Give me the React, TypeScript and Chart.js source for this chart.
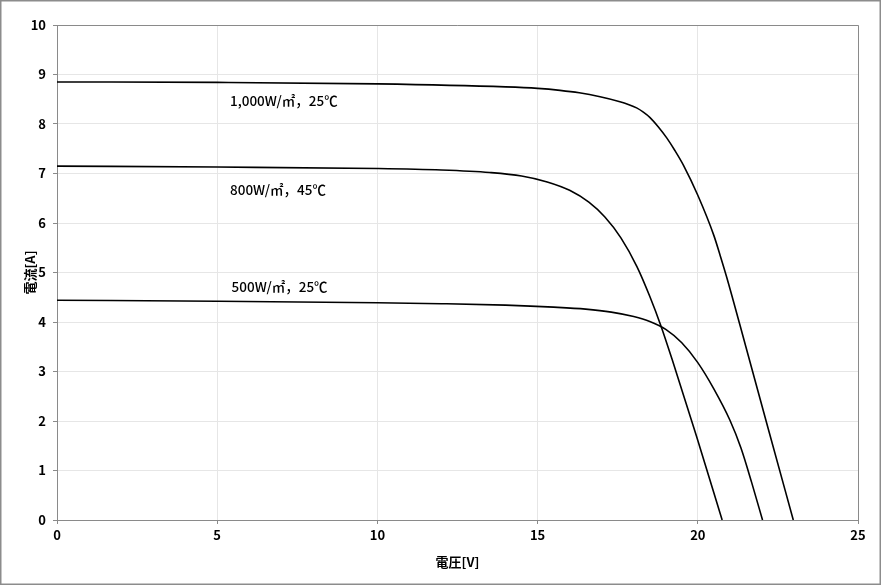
import React, { useEffect, useRef } from "react";
import { Chart, registerables } from "chart.js";

Chart.register(...registerables);

const v1000 = [0, 5, 10, 14, 15, 15.7, 16.3, 16.95, 17.57, 17.83, 18.09, 18.3, 18.51, 18.77, 19.03, 19.29, 19.55, 20.0, 20.5, 20.7, 20.9, 21.5, 22.2, 22.98];
const i1000 = [8.85, 8.84, 8.81, 8.75, 8.72, 8.68, 8.63, 8.55, 8.45, 8.395, 8.325, 8.24, 8.13, 7.94, 7.72, 7.46, 7.17, 6.56, 5.75, 5.34, 4.91, 3.5, 1.84, 0];

const v800 = [0, 5, 10, 12, 13.5, 14.5, 15.3, 16.0, 16.6, 17.1, 17.6, 18.1, 18.5, 18.85, 19.2, 19.96, 20.76];
const i800 = [7.15, 7.13, 7.1, 7.07, 7.02, 6.95, 6.83, 6.66, 6.42, 6.12, 5.7, 5.12, 4.52, 3.92, 3.24, 1.69, 0];

const v500 = [0, 5, 10, 12, 14, 15.5, 16.5, 17.3, 18.0, 18.5, 19.0, 19.5, 20.0, 20.5, 21.0, 21.35, 21.68, 22.02];
const i500 = [4.44, 4.42, 4.39, 4.37, 4.34, 4.3, 4.26, 4.2, 4.11, 4.01, 3.85, 3.58, 3.18, 2.65, 2.02, 1.45, 0.76, 0];

const curveLabels = ["1,000W/㎡，25℃", "800W/㎡，45℃", "500W/㎡，25℃"];
const labelX = [5.4, 5.4, 5.45];
const labelY = [8.46, 6.67, 4.71];

const xTitle = "電圧[V]";
const yTitle = "電流[A]";

const FONT = "'Noto Sans CJK JP', 'Noto Sans', sans-serif";

const toPts = (xs: number[], ys: number[]) => xs.map((x, i) => ({ x, y: ys[i] }));

export default function App() {
  const ref = useRef<HTMLCanvasElement | null>(null);

  useEffect(() => {
    if (!ref.current) return;
    const bgPlugin = {
      id: "bgBorder",
      beforeDraw(chart: any) {
        const { ctx, width, height } = chart;
        ctx.save();
        ctx.fillStyle = "#ffffff";
        ctx.fillRect(0, 0, width, height);
        ctx.restore();
      },
      afterDraw(chart: any) {
        const { ctx, width, height, chartArea } = chart;
        ctx.save();
        ctx.strokeStyle = "#8c8c8c";
        ctx.lineWidth = 1.5;
        ctx.strokeRect(0.75, 0.75, width - 1.5, height - 1.5);
        ctx.strokeStyle = "#8a8a8a";
        ctx.lineWidth = 1;
        ctx.beginPath();
        ctx.moveTo(chartArea.left, chartArea.top + 0.5);
        ctx.lineTo(chartArea.right + 0.5, chartArea.top + 0.5);
        ctx.lineTo(chartArea.right + 0.5, chartArea.bottom);
        ctx.stroke();
        ctx.restore();
      },
    };
    const labelPlugin = {
      id: "curveLabels",
      afterDatasetsDraw(chart: any) {
        const { ctx, scales } = chart;
        ctx.save();
        ctx.fillStyle = "#000";
        ctx.font = `500 13.5px ${FONT}`;
        ctx.textAlign = "left";
        ctx.textBaseline = "middle";
        curveLabels.forEach((t, i) => {
          ctx.fillText(t, scales.x.getPixelForValue(labelX[i]), scales.y.getPixelForValue(labelY[i]));
        });
        ctx.restore();
      },
    };
    const mk = (xs: number[], ys: number[]) => ({
      data: toPts(xs, ys),
      borderColor: "#000",
      borderWidth: 1.6,
      pointRadius: 0,
      fill: false,
      cubicInterpolationMode: "monotone" as const,
      showLine: true,
    });
    const chart = new Chart(ref.current, {
      type: "scatter",
      data: {
        datasets: [mk(v1000, i1000), mk(v800, i800), mk(v500, i500)],
      },
      plugins: [bgPlugin, labelPlugin],
      options: {
        animation: false,
        responsive: false,
        maintainAspectRatio: false,
        devicePixelRatio: 1,
        layout: { padding: { left: 0, top: 25, right: 23, bottom: 0 } },
        plugins: { legend: { display: false }, tooltip: { enabled: false } },
        scales: {
          x: {
            type: "linear",
            min: 0,
            max: 25,
            afterFit: (s: any) => {
              s.height = 65;
            },
            ticks: {
              stepSize: 5,
              color: "#000",
              padding: 3,
              font: { family: FONT, size: 13, weight: "bold" },
            },
            grid: { color: "#e6e6e6", tickLength: 4, tickColor: "#8a8a8a" },
            border: { color: "#8a8a8a", width: 1 },
            title: {
              display: true,
              text: xTitle,
              color: "#000",
              font: { family: FONT, size: 13, weight: "bold" },
              padding: { top: 0, bottom: 15 },
            },
          },
          y: {
            type: "linear",
            min: 0,
            max: 10,
            afterFit: (s: any) => {
              s.width = 57;
            },
            ticks: {
              stepSize: 1,
              color: "#000",
              padding: 7,
              font: { family: FONT, size: 13, weight: "bold" },
            },
            grid: { color: "#e6e6e6", tickLength: 4, tickColor: "#8a8a8a" },
            border: { color: "#8a8a8a", width: 1 },
            title: {
              display: true,
              text: yTitle,
              color: "#000",
              font: { family: FONT, size: 13, weight: "bold" },
              padding: { top: 22, bottom: 0 },
            },
          },
        },
      },
    });
    return () => chart.destroy();
  }, []);

  return (
    <div style={{ position: "fixed", left: 0, top: 0, width: 881, height: 585 }}>
      <canvas ref={ref} width={881} height={585} style={{ width: 881, height: 585, display: "block" }} />
    </div>
  );
}
